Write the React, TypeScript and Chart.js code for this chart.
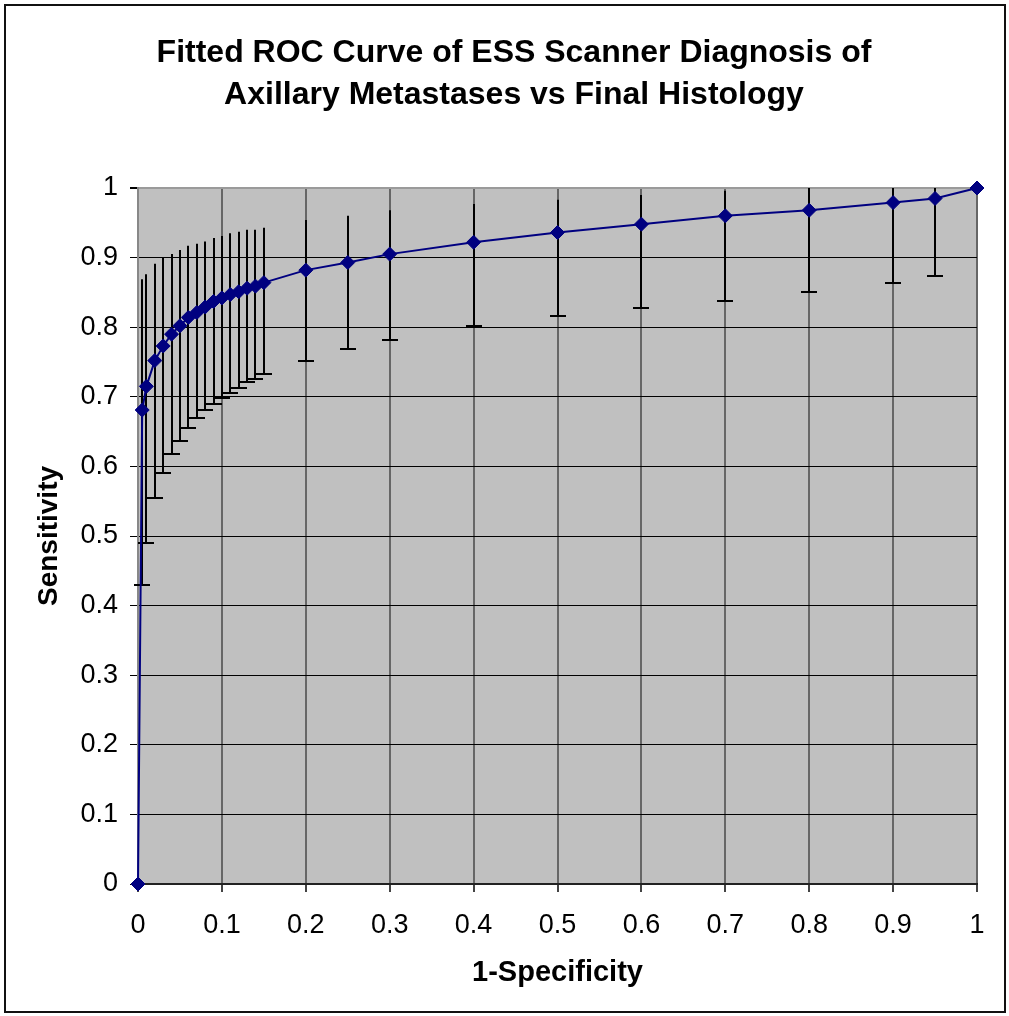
import { useEffect, useRef } from 'react';
import { Chart, registerables } from 'chart.js';

Chart.register(...registerables);

const titleLines = [
  'Fitted ROC Curve of ESS Scanner Diagnosis of',
  'Axillary Metastases vs Final Histology',
];
const xAxisTitle = '1-Specificity';
const yAxisTitle = 'Sensitivity';
const xTickLabels = ['0', '0.1', '0.2', '0.3', '0.4', '0.5', '0.6', '0.7', '0.8', '0.9', '1'];
const yTickLabels = ['0', '0.1', '0.2', '0.3', '0.4', '0.5', '0.6', '0.7', '0.8', '0.9', '1'];

const fpr = [0, 0.005, 0.01, 0.02, 0.03, 0.04, 0.05, 0.06, 0.07, 0.08, 0.09, 0.1, 0.11, 0.12, 0.13, 0.14, 0.15, 0.2, 0.25, 0.3, 0.4, 0.5, 0.6, 0.7, 0.8, 0.9, 0.95, 1];
const sensitivity = [0, 0.681, 0.715, 0.752, 0.773, 0.79, 0.802, 0.814, 0.821, 0.829, 0.837, 0.842, 0.847, 0.851, 0.856, 0.859, 0.864, 0.882, 0.893, 0.905, 0.922, 0.936, 0.948, 0.96, 0.968, 0.979, 0.985, 1];
const upperCI: (number | null)[] = [null, 0.869, 0.876, 0.891, 0.9, 0.905, 0.911, 0.917, 0.92, 0.923, 0.928, 0.931, 0.935, 0.937, 0.94, 0.94, 0.943, 0.954, 0.96, 0.968, 0.977, 0.983, 0.99, 0.996, 1, 1, 1, null];
const lowerCI: (number | null)[] = [null, 0.43, 0.49, 0.554, 0.591, 0.618, 0.637, 0.655, 0.669, 0.681, 0.689, 0.698, 0.706, 0.712, 0.721, 0.726, 0.733, 0.752, 0.769, 0.781, 0.802, 0.816, 0.828, 0.838, 0.85, 0.864, 0.873, null];

const FONT = '"Liberation Sans", Arial, Helvetica, sans-serif';

export default function App() {
  const ref = useRef<HTMLCanvasElement>(null);

  useEffect(() => {
    const canvas = ref.current;
    if (!canvas) return;
    Chart.defaults.font.family = FONT;

    const bgPlugin = {
      id: 'plotBg',
      beforeDraw(chart: any) {
        const { ctx, chartArea } = chart;
        ctx.save();
        ctx.fillStyle = '#C0C0C0';
        ctx.fillRect(chartArea.left, chartArea.top, chartArea.width, chartArea.height);
        ctx.restore();
      },
    };

    const errPlugin = {
      id: 'errBars',
      beforeDatasetsDraw(chart: any) {
        const { ctx, scales } = chart;
        const xs = scales.x;
        const ys = scales.y;
        ctx.save();
        ctx.strokeStyle = '#000';
        ctx.lineWidth = 2;
        fpr.forEach((fx, i) => {
          const up = upperCI[i];
          const lo = lowerCI[i];
          if (up == null || lo == null) return;
          const px = Math.round(xs.getPixelForValue(fx));
          const yt = ys.getPixelForValue(up);
          const yb = Math.round(ys.getPixelForValue(lo));
          ctx.beginPath();
          ctx.moveTo(px, yt);
          ctx.lineTo(px, yb);
          ctx.stroke();
          ctx.beginPath();
          ctx.moveTo(px - 8, yb);
          ctx.lineTo(px + 8, yb);
          ctx.stroke();
        });
        ctx.restore();
      },
    };

    const titlePlugin = {
      id: 'chartTitle',
      afterDraw(chart: any) {
        const ctx = chart.ctx;
        ctx.save();
        ctx.font = `bold 32px ${FONT}`;
        ctx.fillStyle = '#000';
        ctx.textAlign = 'center';
        ctx.textBaseline = 'middle';
        const ys = [53, 95];
        titleLines.forEach((t, i) => {
          ctx.fillText(t, 514, ys[i]);
        });
        ctx.restore();
      },
    };

    const chart = new Chart(canvas, {
      type: 'line',
      data: {
        datasets: [
          {
            data: fpr.map((x, i) => ({ x, y: sensitivity[i] })),
            borderColor: '#000080',
            backgroundColor: '#000080',
            borderWidth: 2,
            pointStyle: 'rectRot',
            pointRadius: 7,
            pointBorderWidth: 1,
            pointBackgroundColor: '#000080',
            pointBorderColor: '#000080',
            tension: 0,
            clip: false as any,
          },
        ],
      },
      options: {
        responsive: false,
        animation: false,
        devicePixelRatio: 1,
        layout: { padding: { top: 188, right: 32, left: 0, bottom: 0 } },
        plugins: {
          legend: { display: false },
          tooltip: { enabled: false },
          title: { display: false },
        },
        scales: {
          x: {
            type: 'linear',
            min: 0,
            max: 1,
            afterFit(s: any) {
              s.height = 132;
            },
            ticks: {
              stepSize: 0.1,
              callback: (_v: any, i: number) => xTickLabels[i],
              font: { size: 27 },
              color: '#000',
              padding: 17,
              maxRotation: 0,
              autoSkip: false,
            },
            grid: {
              color: '#666',
              lineWidth: 2,
              tickLength: 8,
              tickColor: '#444',
            },
            border: { display: true, color: '#222', width: 2 },
            title: {
              display: true,
              text: xAxisTitle,
              font: { size: 29, weight: 'bold' },
              color: '#000',
              padding: { top: 0, bottom: 26 },
            },
          },
          y: {
            type: 'linear',
            min: 0,
            max: 1,
            afterFit(s: any) {
              s.width = 138;
            },
            ticks: {
              stepSize: 0.1,
              callback: (_v: any, i: number) => yTickLabels[i],
              font: { size: 27 },
              color: '#000',
              padding: 12,
            },
            grid: {
              color: (c: any) => (c.tick && c.tick.value === 1 ? '#9a9a9a' : '#000'),
              lineWidth: (c: any) => (c.tick && c.tick.value === 1 ? 2 : 1),
              tickLength: 8,
              tickColor: '#000',
            },
            border: { display: true, color: '#888', width: 2 },
            title: {
              display: true,
              text: yAxisTitle,
              font: { size: 28, weight: 'bold' },
              color: '#000',
              padding: { top: 32, bottom: 0 },
            },
          },
        },
      } as any,
      plugins: [bgPlugin, errPlugin, titlePlugin],
    });

    return () => chart.destroy();
  }, []);

  return (
    <div style={{ position: 'absolute', left: 0, top: 0, width: 1009, height: 1016, background: '#fff' }}>
      <canvas ref={ref} width={1009} height={1016} style={{ display: 'block', width: 1009, height: 1016 }} />
      <div
        style={{
          position: 'absolute',
          left: 4,
          top: 4,
          width: 1002,
          height: 1009,
          border: '2px solid #111',
          boxSizing: 'border-box',
          pointerEvents: 'none',
        }}
      />
    </div>
  );
}
